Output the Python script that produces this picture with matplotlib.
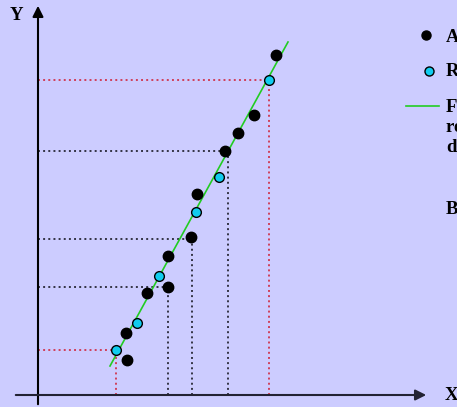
import matplotlib
matplotlib.use("Agg")
from matplotlib import pyplot as plt

# puntos observados (negros) y puntos sobre la recta (celestes)
negros_x = [238, 216, 200, 187, 159, 153, 130, 130, 109, 88, 89]
negros_y = [340, 280, 262, 244, 201, 158, 139, 108, 102, 62, 35]
celestes_x = [231, 181, 158, 121, 99, 78]
celestes_y = [315, 218, 183, 119, 72, 45]

# recta de regresion (extremos)
recta_x = [72, 250]
recta_y = [29, 353]

# lineas guia punteadas: (x, y, color)
guias_x = [231, 190, 154, 130, 78]
guias_y = [315, 244, 156, 108, 45]
guias_c = ['#d0405a', '#333344', '#333344', '#333344', '#d0405a']

# textos de la leyenda (cortados en el borde derecho, como en el original)
leyenda = ['Aleatorios', 'Reales', 'Función', 'recta de', 'datos', 'B']
ley_y = [358, 323, 288, 267, 247, 185]

fondo = '#ccccff'
fig = plt.figure(figsize=(4.57, 4.07), dpi=100, facecolor=fondo)
ax = fig.add_axes([0, 0, 1, 1])
ax.set_facecolor(fondo)
ax.set_xlim(-38, 419)
ax.set_ylim(-12, 395)
ax.axis('off')

# guias
for gx, gy, gc in zip(guias_x, guias_y, guias_c):
    ax.plot([0, gx], [gy, gy], ls=':', color=gc, lw=1.4)
    ax.plot([gx, gx], [0, gy], ls=':', color=gc, lw=1.4)

# ejes con flechas
ax.annotate('', xy=(0, 392), xytext=(0, -12),
            arrowprops=dict(arrowstyle='-|>', color='black', lw=1.5, mutation_scale=16))
ax.annotate('', xy=(391, 0), xytext=(-25, 0),
            arrowprops=dict(arrowstyle='-|>', color='#222233', lw=1.5, mutation_scale=16))
ax.text(-22, 380, 'Y', fontsize=13.5, fontweight='bold', family='Liberation Serif',
        ha='center', va='center')
ax.text(407, 0, 'X', fontsize=13.5, fontweight='bold', family='Liberation Serif',
        ha='left', va='center')

# recta y puntos
ax.plot(recta_x, recta_y, color='#22cc22', lw=1.2)
ax.plot(negros_x, negros_y, 'o', color='black', ms=7.5, ls='none')
ax.plot(celestes_x, celestes_y, 'o', color='#11ccee', mec='black', mew=1, ms=7, ls='none')

# leyenda a mano
ax.plot([388], [360], 'o', color='black', ms=6.5)
ax.plot([391], [324], 'o', color='#11ccee', mec='black', mew=1, ms=6.5)
ax.plot([368, 401], [289, 289], color='#22cc22', lw=1.2)
for t, yy in zip(leyenda, ley_y):
    ax.text(408, yy, t, fontsize=13.5, fontweight='bold', family='Liberation Serif',
            ha='left', va='center')

fig.savefig('out.png', dpi=100, facecolor=fondo)
